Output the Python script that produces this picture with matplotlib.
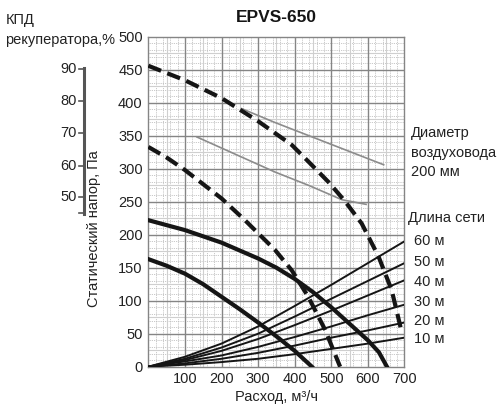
import matplotlib.pyplot as plt
import numpy as np

# --- data ---
# fan curves (thick solid), flow m3/h vs static pressure Pa
fan_hi_x = [0, 100, 200, 300, 350, 400, 450, 500, 550, 600, 630, 652]
fan_hi_y = [222, 207, 188, 164, 150, 133, 113, 90, 65, 40, 22, 0]
fan_lo_x = [0, 50, 100, 150, 200, 250, 300, 350, 400, 447]
fan_lo_y = [163, 153, 141, 125, 106, 87, 67, 46, 24, 0]

# heat recovery efficiency curves (thick dashed)
eff_hi_x = [0, 100, 200, 300, 392, 437, 492, 537, 583, 629, 665, 690]
eff_hi_y = [456, 434, 407, 372, 336, 311, 280, 251, 217, 167, 116, 58]
eff_lo_x = [0, 50, 100, 200, 264, 346, 392, 437, 483, 524]
eff_lo_y = [333, 317, 298, 255, 222, 177, 146, 106, 56, 0]

# thin gray lines
gray_hi_x = [255, 346, 643]
gray_hi_y = [391, 370, 306]
gray_lo_x = [133, 346, 437, 529, 595]
gray_lo_y = [348, 295, 275, 253, 246]

# network resistance lines, duct 200 mm
net_x = [0, 100, 200, 300, 400, 500, 600, 700]
net_lengths = ['60 м', '50 м', '40 м', '30 м', '20 м', '10 м']
net_60 = [0, 15, 35, 61, 92, 124, 157, 190]
net_50 = [0, 12, 29, 50, 76, 103, 130, 157]
net_40 = [0, 10, 24, 42, 63, 85, 108, 131]
net_30 = [0, 8, 17, 30, 45, 61, 78, 94]
net_20 = [0, 5, 12, 21, 32, 44, 55, 67]
net_10 = [0, 3, 7, 12, 19, 27, 35, 44]
net_series = [net_60, net_50, net_40, net_30, net_20, net_10]

eff_ticks = [90, 80, 70, 60, 50]

plt.rcParams['font.family'] = ['Liberation Sans', 'DejaVu Sans']

fig = plt.figure(figsize=(5.0, 4.07), dpi=100)
ax = fig.add_axes([148.3 / 500, 40.3 / 407, 256.2 / 500, 330 / 407])
ax.set_xlim(0, 700)
ax.set_ylim(0, 500)

# grid: dotted fine, light solid middle, darker major
for gx in np.arange(20, 700, 20):
    ax.axvline(gx, color='#b5b5b5', lw=0.6, ls=(0, (1, 1.2)), zorder=0)
for gy in np.arange(10, 500, 10):
    ax.axhline(gy, color='#b5b5b5', lw=0.6, ls=(0, (1, 1.2)), zorder=0)
for gx in np.arange(50, 700, 100):
    ax.axvline(gx, color='#cfcfcf', lw=0.8, zorder=0)
for gy in np.arange(25, 500, 50):
    ax.axhline(gy, color='#cfcfcf', lw=0.8, zorder=0)
for gx in np.arange(100, 700, 100):
    ax.axvline(gx, color='#858585', lw=1.0, zorder=0.5)
for gy in np.arange(50, 500, 50):
    ax.axhline(gy, color='#858585', lw=1.0, zorder=0.5)
for s in ax.spines.values():
    s.set_color('#858585')
    s.set_linewidth(1.0)

ax.plot(gray_hi_x, gray_hi_y, color='#8c8c8c', lw=1.2, zorder=2)
ax.plot(gray_lo_x, gray_lo_y, color='#8c8c8c', lw=1.2, zorder=2)

for ys in net_series:
    ax.plot(net_x, ys, color='#151515', lw=1.4, zorder=3)

ax.plot(fan_hi_x, fan_hi_y, color='#151515', lw=3.0, zorder=4,
        solid_joinstyle='round')
ax.plot(fan_lo_x, fan_lo_y, color='#151515', lw=3.0, zorder=4,
        solid_joinstyle='round')
ax.plot(eff_hi_x, eff_hi_y, color='#151515', lw=3.0, ls=(0, (3.3, 1.6)),
        zorder=4)
ax.plot(eff_lo_x, eff_lo_y, color='#151515', lw=3.0, ls=(0, (3.3, 1.6)),
        zorder=4)

ax.set_xticks(np.arange(100, 701, 100))
ax.set_yticks(np.arange(0, 501, 50))
ax.tick_params(length=0, labelsize=10.5, colors='#222222', pad=4)
ax.set_xlabel('Расход, м³/ч', fontsize=10.5, color='#222222', labelpad=3)
ax.set_ylabel('Статический напор, Па', fontsize=10.5, color='#222222')
ax.yaxis.set_label_coords(-0.185, 0.417)

fig.text(276 / 500, 1 - 17 / 407, 'EPVS-650', ha='center', va='center',
         fontsize=12.5, fontweight='bold', color='#151515')

# efficiency scale on the left
fig.text(6 / 500, 1 - 20 / 407, 'КПД', ha='left', va='center',
         fontsize=10.5, color='#222222')
fig.text(5 / 500, 1 - 40 / 407, 'рекуператора,%', ha='left', va='center',
         fontsize=10.5, color='#222222')
eff_px = [69, 101, 133, 166, 197]
fig.add_artist(plt.Line2D([83.5 / 500, 83.5 / 500],
                          [1 - 68 / 407, 1 - 214 / 407],
                          color='#555555', lw=2.2))
for val, py in zip(eff_ticks, eff_px):
    fig.add_artist(plt.Line2D([79 / 500, 83.5 / 500],
                              [1 - py / 407, 1 - py / 407],
                              color='#555555', lw=1.2))
    fig.text(77 / 500, 1 - py / 407, str(val), ha='right', va='center',
             fontsize=10.5, color='#222222')
fig.add_artist(plt.Line2D([79 / 500, 83.5 / 500],
                          [1 - 213 / 407, 1 - 213 / 407],
                          color='#555555', lw=1.2))

# right-hand notes
for txt, py in [('Диаметр', 133), ('воздуховода', 153), ('200 мм', 172)]:
    fig.text(411 / 500, 1 - py / 407, txt, ha='left', va='center',
             fontsize=10.5, color='#222222')
fig.text(408 / 500, 1 - 218 / 407, 'Длина сети', ha='left', va='center',
         fontsize=10.5, color='#222222')
for txt, py in zip(net_lengths, [241, 262, 282, 302, 321, 339]):
    fig.text(414 / 500, 1 - py / 407, txt, ha='left', va='center',
             fontsize=10.5, color='#222222')

fig.savefig('out.png', dpi=100, facecolor='white')
